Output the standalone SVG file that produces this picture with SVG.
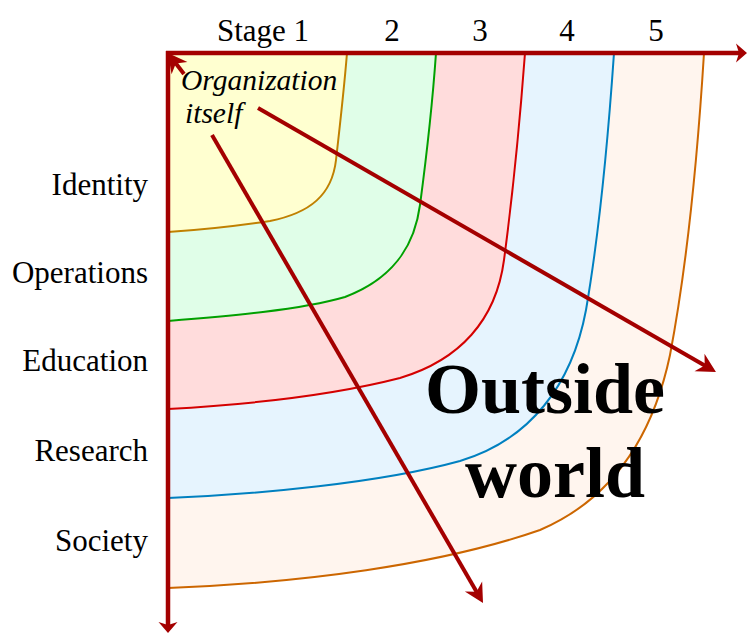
<svg xmlns="http://www.w3.org/2000/svg" width="747" height="633" viewBox="0 0 747 633">
<style>
  text { font-family: "Liberation Serif", "Times New Roman", serif; fill: #000; }
  .lbl { font-size: 31px; }
  .left { text-anchor: end; }
  .mid { text-anchor: middle; }
  .it { font-style: italic; font-size: 29.5px; }
  .big { font-weight: bold; font-size: 72px; text-anchor: middle; }
  .band { stroke-width: 2; }
  .arr { stroke: #a40000; stroke-width: 4; fill: none; }
  .axis { stroke: #a40000; stroke-width: 4.5; fill: none; }
</style>
<defs>
  <marker id="head" markerUnits="userSpaceOnUse" markerWidth="40" markerHeight="40" refX="0" refY="0" orient="auto" overflow="visible">
    <path d="M10,0 L-9,-10 L-3,0 L-9,10 Z" fill="#a40000"/>
  </marker>
  <marker id="axhead" markerUnits="userSpaceOnUse" markerWidth="40" markerHeight="40" refX="0" refY="0" orient="auto" overflow="visible">
    <path d="M8,0 L-3,-9.5 L0,0 L-3,9.5 Z" fill="#a40000"/>
  </marker>
</defs>

<g id="bands">
  <g id="band5">
    <path class="band" fill="#fff5ee" stroke="#cc6600" d="M168,53 L704,53 C698,150 688,260 670,355 C652,440 610,500 540,530 C440,565 300,583 168,588 Z"/>
  </g>
  <g id="band4">
    <path class="band" fill="#e6f4fe" stroke="#0080c0" d="M168,53 L614,53 C608,140 598,240 586,310 C572,385 530,440 460,461 C380,483 260,494 168,498 Z"/>
  </g>
  <g id="band3">
    <path class="band" fill="#ffdcdc" stroke="#d40000" d="M168,53 L525,53 C520,120 512,200 504,260 C496,320 460,360 400,378 C330,396 240,405 168,409 Z"/>
  </g>
  <g id="band2">
    <path class="band" fill="#e0fee8" stroke="#00a000" d="M168,53 L436,53 C432,110 426,160 420,205 C414,250 390,280 345,297 C300,310 230,316 168,321 Z"/>
  </g>
  <g id="band1">
    <path class="band" fill="#ffffd0" stroke="#c08000" d="M168,53 L347,53 C344,90 340,125 336,160 C332,195 310,213 270,221 C230,227 200,230 168,232 Z"/>
  </g>
</g>

<g id="axes">
  <line class="axis" x1="166" y1="53" x2="739" y2="53" marker-end="url(#axhead)"/>
  <line class="axis" x1="168" y1="51" x2="168" y2="625" marker-end="url(#axhead)"/>
</g>

<g id="top-labels">
  <text class="lbl mid" x="263" y="41">Stage 1</text>
  <text class="lbl mid" x="392" y="41">2</text>
  <text class="lbl mid" x="480" y="41">3</text>
  <text class="lbl mid" x="567" y="41">4</text>
  <text class="lbl mid" x="656" y="41">5</text>
</g>

<g id="left-labels">
  <text class="lbl left" x="148" y="195">Identity</text>
  <text class="lbl left" x="148" y="283">Operations</text>
  <text class="lbl left" x="148" y="371">Education</text>
  <text class="lbl left" x="148" y="461">Research</text>
  <text class="lbl left" x="148" y="551">Society</text>
</g>

<g id="org">
  <text class="it" x="181" y="90">Organization</text>
  <text class="it" x="185" y="123">itself</text>
</g>

<g id="outside">
  <text class="big" x="545" y="413">Outside</text>
  <text class="big" x="555" y="497">world</text>
</g>

<g id="connectors">
  <line class="arr" x1="258" y1="108" x2="707.3" y2="367" marker-end="url(#head)"/>
  <line class="arr" x1="212" y1="135" x2="478" y2="594.3" marker-end="url(#head)"/>
  <line class="arr" x1="184" y1="74" x2="174" y2="61" marker-end="url(#head)"/>
</g>
</svg>
